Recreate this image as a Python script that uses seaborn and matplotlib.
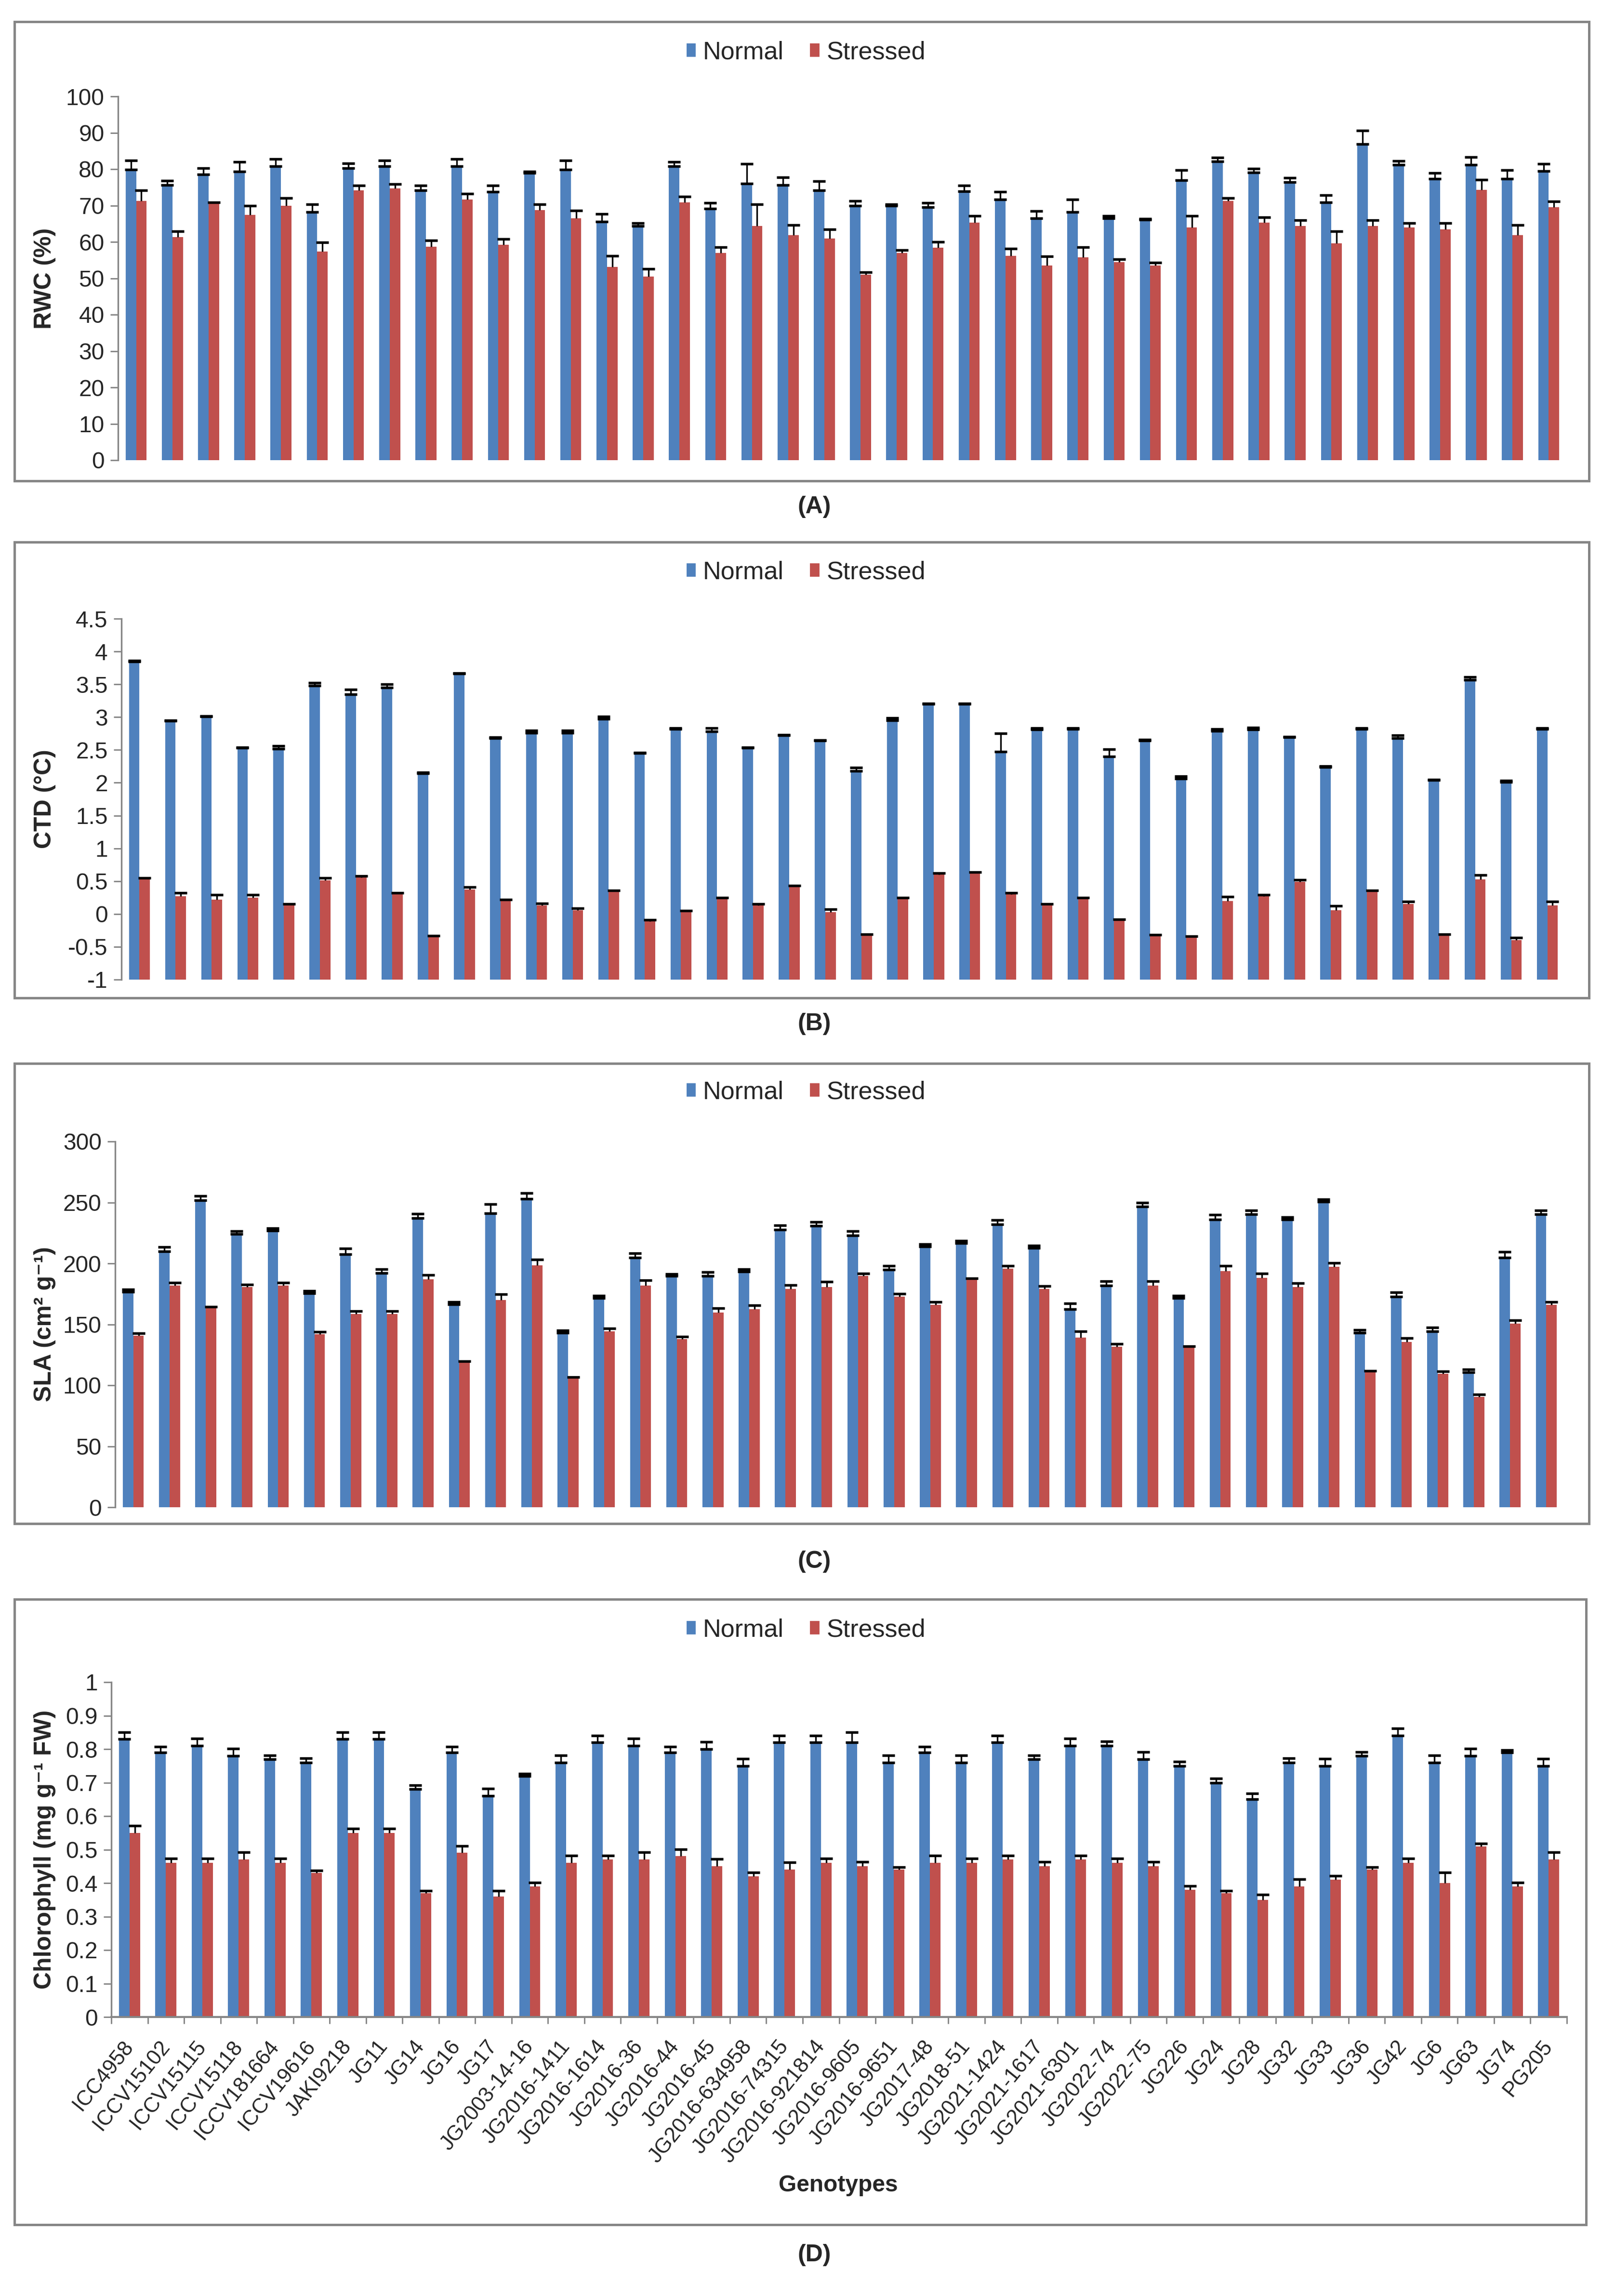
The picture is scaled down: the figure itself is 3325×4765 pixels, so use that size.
import numpy as np
import pandas as pd
import matplotlib
matplotlib.use("Agg")
import matplotlib.pyplot as plt
import seaborn as sns
from matplotlib.patches import Patch, Rectangle
from matplotlib.ticker import FuncFormatter, MultipleLocator

# ==========================
# Data
# ==========================

genotypes = [
    "ICC4958", "ICCV15102", "ICCV15115", "ICCV15118", "ICCV181664", "ICCV19616",
    "JAKI9218", "JG11", "JG14", "JG16", "JG17", "JG2003-14-16", "JG2016-1411",
    "JG2016-1614", "JG2016-36", "JG2016-44", "JG2016-45", "JG2016-634958",
    "JG2016-74315", "JG2016-921814", "JG2016-9605", "JG2016-9651", "JG2017-48",
    "JG2018-51", "JG2021-1424", "JG2021-1617", "JG2021-6301", "JG2022-74",
    "JG2022-75", "JG226", "JG24", "JG28", "JG32", "JG33", "JG36", "JG42", "JG6",
    "JG63", "JG74", "PG205",
]

rwc_normal = [79.9, 75.6, 78.6, 79.4, 80.8, 68.2, 80.3, 80.8, 74.2, 80.8,
              73.8, 78.9, 79.9, 65.6, 64.4, 80.8, 69.1, 76.0, 75.6, 74.2,
              70.0, 70.0, 69.5, 73.9, 71.7, 66.5, 68.2, 66.5, 66.1, 76.9,
              82.1, 79.1, 76.4, 70.8, 86.9, 81.2, 77.3, 81.2, 77.3, 79.5]
rwc_normal_err = [2.5, 1.2, 1.6, 2.6, 2.0, 2.1, 1.3, 1.6, 1.3, 2.0,
                  1.7, 0.5, 2.5, 2.1, 0.8, 1.2, 1.6, 5.5, 2.1, 2.5,
                  1.2, 0.3, 1.2, 1.6, 2.1, 2.0, 3.4, 0.7, 0.3, 2.9,
                  1.1, 1.0, 1.2, 2.0, 3.7, 1.1, 1.6, 2.1, 2.5, 2.0]
rwc_stressed = [71.2, 61.3, 70.7, 67.4, 70.0, 57.4, 74.2, 74.7, 58.7, 71.7,
                59.2, 68.7, 66.5, 53.1, 50.5, 70.8, 57.0, 64.4, 61.8, 60.9,
                51.0, 57.0, 58.4, 65.3, 56.1, 53.5, 55.8, 54.5, 53.5, 64.0,
                71.3, 65.3, 64.4, 59.6, 64.4, 64.0, 63.5, 74.3, 61.8, 69.5]
rwc_stressed_err = [3.0, 1.6, 0.1, 2.6, 2.1, 2.5, 1.3, 1.2, 1.7, 1.6,
                    1.6, 1.6, 2.1, 3.0, 2.1, 1.6, 1.6, 5.9, 2.9, 2.5,
                    0.7, 0.8, 1.6, 1.9, 2.1, 2.5, 2.7, 0.7, 0.8, 3.2,
                    0.7, 1.5, 1.6, 3.3, 1.6, 1.1, 1.6, 2.8, 2.8, 1.6]

ctd_normal = [3.85, 2.94, 3.01, 2.53, 2.52, 3.48, 3.35, 3.45, 2.14, 3.66,
              2.68, 2.76, 2.76, 2.97, 2.45, 2.82, 2.78, 2.53, 2.72, 2.64,
              2.18, 2.95, 3.20, 3.20, 2.47, 2.81, 2.82, 2.40, 2.64, 2.06,
              2.79, 2.81, 2.69, 2.24, 2.82, 2.68, 2.04, 3.57, 2.01, 2.82]
ctd_normal_err = [0.01, 0.01, 0.01, 0.01, 0.04, 0.04, 0.07, 0.05, 0.02, 0.01,
                  0.01, 0.04, 0.04, 0.04, 0.01, 0.01, 0.05, 0.01, 0.01, 0.01,
                  0.05, 0.04, 0.01, 0.01, 0.28, 0.02, 0.01, 0.11, 0.02, 0.04,
                  0.03, 0.03, 0.01, 0.01, 0.01, 0.04, 0.01, 0.04, 0.02, 0.01]
ctd_stressed = [0.54, 0.27, 0.22, 0.25, 0.14, 0.51, 0.56, 0.31, -0.34, 0.37,
                0.21, 0.13, 0.06, 0.35, -0.11, 0.04, 0.24, 0.13, 0.42, 0.03,
                -0.32, 0.24, 0.60, 0.63, 0.30, 0.14, 0.24, -0.10, -0.33, -0.35,
                0.20, 0.27, 0.49, 0.06, 0.35, 0.15, -0.32, 0.53, -0.40, 0.13]
ctd_stressed_err = [0.01, 0.05, 0.07, 0.04, 0.01, 0.04, 0.02, 0.01, 0.01, 0.04,
                    0.01, 0.03, 0.03, 0.01, 0.02, 0.01, 0.01, 0.02, 0.01, 0.04,
                    0.01, 0.01, 0.02, 0.01, 0.02, 0.01, 0.01, 0.02, 0.01, 0.01,
                    0.06, 0.02, 0.03, 0.06, 0.01, 0.04, 0.01, 0.06, 0.04, 0.06]

sla_normal = [176.8, 210.0, 251.8, 224.1, 227.0, 175.3, 207.6, 192.0, 237.1, 166.4,
              241.3, 253.0, 143.0, 171.6, 204.9, 189.6, 189.6, 193.3, 227.8, 230.7,
              222.9, 194.8, 213.8, 216.7, 232.0, 212.7, 162.3, 182.0, 246.6, 171.6,
              235.9, 240.2, 235.9, 250.4, 143.0, 172.6, 144.3, 110.8, 204.9, 240.2]
sla_normal_err = [2.0, 3.6, 3.5, 2.3, 2.0, 2.1, 4.7, 3.4, 3.8, 1.9,
                  7.4, 4.8, 2.1, 1.9, 3.3, 1.8, 3.3, 2.1, 3.3, 3.3,
                  3.5, 3.2, 2.2, 2.0, 3.4, 2.1, 4.9, 3.2, 3.4, 1.9,
                  3.9, 3.3, 2.1, 2.2, 2.3, 3.7, 3.3, 2.3, 4.7, 3.3]
sla_stressed = [140.6, 182.0, 164.0, 180.5, 182.0, 141.8, 158.6, 158.6, 186.9, 119.5,
                170.1, 198.5, 105.9, 144.3, 182.0, 137.9, 159.8, 162.3, 179.2, 180.5,
                189.6, 172.6, 166.2, 187.1, 195.8, 179.2, 139.1, 131.5, 182.0, 131.5,
                193.5, 188.1, 180.5, 197.2, 111.0, 135.4, 109.6, 90.5, 150.7, 166.2]
sla_stressed_err = [2.1, 2.0, 0.5, 2.3, 2.0, 2.2, 2.2, 2.2, 3.5, 0.3,
                    4.6, 4.7, 0.8, 2.3, 4.3, 2.1, 3.3, 3.3, 3.1, 4.5,
                    2.0, 2.5, 2.3, 0.8, 2.2, 2.3, 5.0, 2.3, 3.2, 0.5,
                    4.5, 3.5, 3.3, 3.3, 0.8, 3.3, 2.0, 1.9, 2.5, 2.3]

chl_normal = [0.83, 0.79, 0.81, 0.78, 0.77, 0.76, 0.83, 0.83, 0.68, 0.79,
              0.66, 0.72, 0.76, 0.82, 0.81, 0.79, 0.80, 0.75, 0.82, 0.82,
              0.82, 0.76, 0.79, 0.76, 0.82, 0.77, 0.81, 0.81, 0.77, 0.75,
              0.70, 0.65, 0.76, 0.75, 0.78, 0.84, 0.76, 0.78, 0.79, 0.75]
chl_normal_err = [0.021, 0.017, 0.022, 0.021, 0.011, 0.012, 0.021, 0.021, 0.012, 0.017,
                  0.022, 0.007, 0.021, 0.021, 0.022, 0.017, 0.022, 0.021, 0.021, 0.021,
                  0.030, 0.021, 0.017, 0.021, 0.021, 0.011, 0.022, 0.013, 0.021, 0.012,
                  0.012, 0.017, 0.012, 0.021, 0.012, 0.022, 0.021, 0.021, 0.007, 0.021]
chl_stressed = [0.55, 0.46, 0.46, 0.47, 0.46, 0.43, 0.55, 0.55, 0.37, 0.49,
                0.36, 0.39, 0.46, 0.47, 0.47, 0.48, 0.45, 0.42, 0.44, 0.46,
                0.45, 0.44, 0.46, 0.46, 0.47, 0.45, 0.47, 0.46, 0.45, 0.38,
                0.37, 0.35, 0.39, 0.41, 0.44, 0.46, 0.40, 0.51, 0.39, 0.47]
chl_stressed_err = [0.021, 0.013, 0.013, 0.022, 0.013, 0.007, 0.012, 0.012, 0.007, 0.021,
                    0.017, 0.012, 0.022, 0.012, 0.022, 0.021, 0.022, 0.012, 0.022, 0.013,
                    0.013, 0.007, 0.022, 0.013, 0.012, 0.013, 0.012, 0.013, 0.013, 0.012,
                    0.007, 0.016, 0.022, 0.012, 0.007, 0.013, 0.031, 0.008, 0.012, 0.022]

# ==========================
# Style
# ==========================

sns.set_style("white")
NARROW = ["Liberation Sans Narrow", "Liberation Sans", "DejaVu Sans"]
REGULAR = ["Liberation Sans", "DejaVu Sans"]
plt.rcParams["font.family"] = NARROW

BLUE = "#4F81BD"
RED = "#C0504D"
GREY = "#868686"

W, H = 3325, 4765
fig = plt.figure(figsize=(W / 300, H / 300), dpi=300)


def fx(px):
    return px / W


def fy(px):
    return 1 - px / H


def draw_panel(axes_px, frame_px, normal, normal_err, stressed, stressed_err,
               ylabel, ylim, step, base, legend_y, tag, tag_y, xlabels=False):
    left, top, right, bottom = axes_px
    ax = fig.add_axes([fx(left), fy(bottom), fx(right - left), (bottom - top) / H])

    df = pd.DataFrame({
        "Genotype": genotypes * 2,
        "Treatment": ["Normal"] * len(genotypes) + ["Stressed"] * len(genotypes),
        "value": list(normal) + list(stressed),
    })
    df["height"] = df["value"] - base

    sns.barplot(
        data=df, x="Genotype", y="height", hue="Treatment",
        order=genotypes, hue_order=["Normal", "Stressed"],
        palette=[BLUE, RED], width=0.58, gap=0, errorbar=None,
        saturation=1, legend=False, bottom=base, linewidth=0, ax=ax
    )

    # error bars (plus direction only)
    for container, errs, hide_low in zip(ax.containers[:2],
                                         [normal_err, stressed_err],
                                         [False, True]):
        xs = [p.get_x() + p.get_width() / 2 for p in container]
        tops = [p.get_y() + p.get_height() for p in container]
        eb = ax.errorbar(xs, tops, yerr=[np.zeros(len(errs)), errs],
                         fmt="none", ecolor="black", elinewidth=0.8,
                         capsize=3.2, capthick=1.3, zorder=3)
        if hide_low:
            eb[1][0].set_visible(False)

    ax.set_xlim(-0.5, len(genotypes) - 0.5)
    ax.set_ylim(*ylim)
    ax.yaxis.set_major_locator(MultipleLocator(step))
    ax.yaxis.set_major_formatter(FuncFormatter(lambda v, _: f"{round(v, 2) + 0.0:g}"))
    ax.tick_params(axis="y", left=True, direction="out", length=3.8, width=0.7,
                   color=GREY, labelsize=11.5, pad=3)
    ax.set_xlabel("")
    ax.set_ylabel("")

    for s in ["top", "right"]:
        ax.spines[s].set_visible(False)
    ax.spines["left"].set_color(GREY)
    ax.spines["left"].set_linewidth(0.8)

    if xlabels:
        ax.spines["bottom"].set_color(GREY)
        ax.spines["bottom"].set_linewidth(1.0)
        ax.set_xticks(range(len(genotypes)))
        ax.set_xticklabels(genotypes, rotation=51, ha="right", va="center",
                           rotation_mode="anchor", fontsize=10.5, family=REGULAR)
        ax.set_xticks(np.arange(-0.5, len(genotypes), 1), minor=True)
        ax.tick_params(axis="x", which="major", bottom=False, length=0, pad=13)
        ax.tick_params(axis="x", which="minor", bottom=True, direction="out",
                       length=3.3, width=0.7, color=GREY)
    else:
        ax.spines["bottom"].set_visible(False)
        ax.tick_params(axis="x", bottom=False, labelbottom=False)

    # y label, legend, panel tag, frame
    fig.text(0.028, fy((top + bottom) / 2), ylabel, rotation=90, ha="center",
             va="center", fontsize=12, fontweight="bold", family=REGULAR)

    handles = [Patch(facecolor=BLUE, label="Normal"),
               Patch(facecolor=RED, label="Stressed")]
    fig.legend(handles=handles, loc="center", bbox_to_anchor=(fx(1672), fy(legend_y)),
               ncol=2, frameon=False, fontsize=12.5, handlelength=0.45,
               handleheight=0.55, handletextpad=0.25, columnspacing=1.0)

    fig.text(fx(1690), fy(tag_y), tag, ha="center", va="center",
             fontsize=12, fontweight="bold")

    fl, ft, fr, fb = frame_px
    fig.patches.append(Rectangle((fx(fl), fy(fb)), fx(fr - fl), (fb - ft) / H,
                                 transform=fig.transFigure, fill=False,
                                 edgecolor=GREY, linewidth=1.2))
    return ax


# ==========================
# Panels
# ==========================

draw_panel((245, 200, 3252, 955), (30, 45, 3298, 998),
           rwc_normal, rwc_normal_err, rwc_stressed, rwc_stressed_err,
           "RWC (%)", (0, 100), 10, 0, 109, "(A)", 1052)

draw_panel((252, 1284, 3249, 2033), (30, 1125, 3298, 2071),
           ctd_normal, ctd_normal_err, ctd_stressed, ctd_stressed_err,
           "CTD (°C)", (-1, 4.5), 0.5, -1, 1188, "(B)", 2125)

draw_panel((239, 2369, 3247, 3128), (30, 2207, 3298, 3162),
           sla_normal, sla_normal_err, sla_stressed, sla_stressed_err,
           "SLA (cm² g⁻¹)", (0, 300), 50, 0, 2267, "(C)", 3241)

ax_d = draw_panel((231, 3491, 3252, 4186), (30, 3319, 3292, 4617),
                  chl_normal, chl_normal_err, chl_stressed, chl_stressed_err,
                  "Chlorophyll (mg g⁻¹ FW)", (0, 1), 0.1, 0, 3383, "(D)", 4680,
                  xlabels=True)

fig.text(fx(1740), fy(4535), "Genotypes", ha="center", va="center",
         fontsize=11.5, fontweight="bold", family=REGULAR)

fig.savefig("out.png", dpi=300)
plt.close(fig)
